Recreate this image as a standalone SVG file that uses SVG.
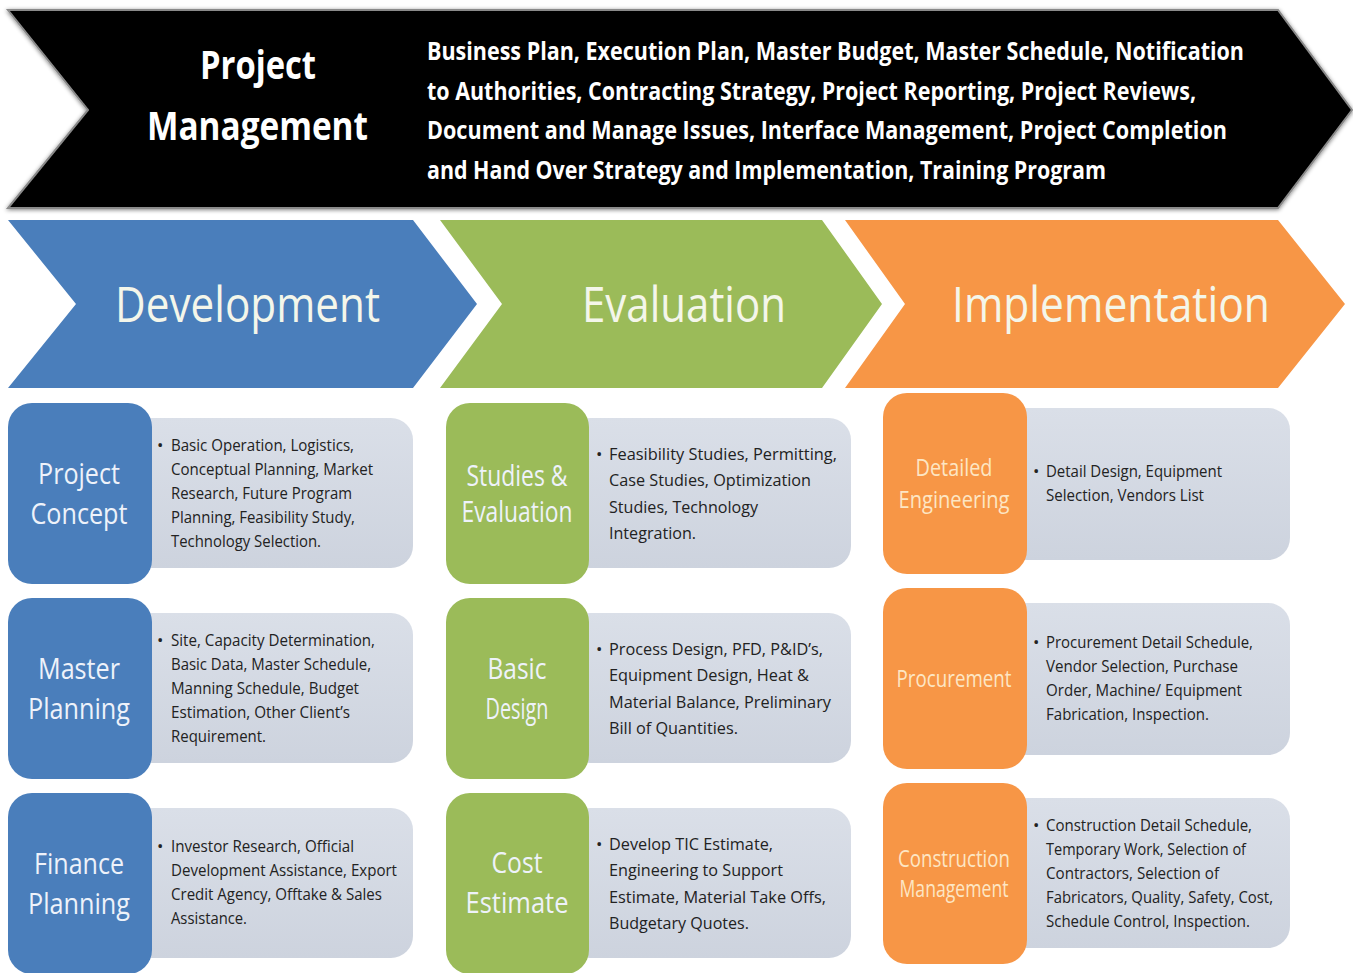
<svg xmlns="http://www.w3.org/2000/svg" width="1353" height="973" viewBox="0 0 1353 973">
<defs>
<linearGradient id="gry" x1="0" y1="0" x2="0" y2="1"><stop offset="0" stop-color="#dadfe8"/><stop offset="1" stop-color="#cdd3de"/></linearGradient>
<filter id="sh" x="-5%" y="-10%" width="110%" height="120%"><feGaussianBlur in="SourceAlpha" stdDeviation="2"/><feOffset dx="0" dy="1"/><feComponentTransfer><feFuncA type="linear" slope="0.5"/></feComponentTransfer><feMerge><feMergeNode/><feMergeNode in="SourceGraphic"/></feMerge></filter>
</defs>
<style>
.f{font-family:"Open Sans","Noto Sans","Liberation Sans",sans-serif}
.hd{fill:#ffffff;font-weight:bold}
.big{fill:#f4f6ea;font-size:50px}
.lb{fill:#eef2fa;font-size:29px;text-anchor:middle}
.lbo{fill:#fde6c4;font-size:23px;text-anchor:middle}
.tx{fill:#222222;font-size:17px}
.bx{fill:url(#gry)}
.blue{fill:#4a7ebb}
.green{fill:#9bbb59}
.orange{fill:#f79646}
</style>
<rect width="1353" height="973" fill="#ffffff"/>

<g id="pm">
<polygon points="8,10 1278,10 1352,110 1278,208 8,208 88,110" fill="#000000" stroke="#8a8a8a" stroke-width="2" filter="url(#sh)"/>
<text class="f hd" x="258" y="79" font-size="40" text-anchor="middle" textLength="116" lengthAdjust="spacingAndGlyphs">Project</text>
<text class="f hd" x="257.5" y="140" font-size="40" text-anchor="middle" textLength="221" lengthAdjust="spacingAndGlyphs">Management</text>
<text class="f hd" font-size="25">
<tspan x="427" y="60" textLength="817" lengthAdjust="spacingAndGlyphs">Business Plan, Execution Plan, Master Budget, Master Schedule, Notification</tspan>
<tspan x="427" y="100" textLength="769" lengthAdjust="spacingAndGlyphs">to Authorities, Contracting Strategy, Project Reporting, Project Reviews,</tspan>
<tspan x="427" y="139" textLength="800" lengthAdjust="spacingAndGlyphs">Document and Manage Issues, Interface Management, Project Completion</tspan>
<tspan x="427" y="179" textLength="679" lengthAdjust="spacingAndGlyphs">and Hand Over Strategy and Implementation, Training Program</tspan>
</text>
</g>

<g id="development">
<polygon class="blue" points="8,220 413,220 477,304 413,388 8,388 76,304"/>
<text class="f big" x="115" y="322" textLength="265" lengthAdjust="spacingAndGlyphs">Development</text>
</g>
<g id="evaluation">
<polygon class="green" points="440,220 822,220 882,304 822,388 440,388 502,304"/>
<text class="f big" x="582" y="322" textLength="204" lengthAdjust="spacingAndGlyphs">Evaluation</text>
</g>
<g id="implementation">
<polygon class="orange" points="845,220 1278,220 1345,304 1278,388 845,388 905,304"/>
<text class="f big" x="952" y="322" textLength="318" lengthAdjust="spacingAndGlyphs">Implementation</text>
</g>

<g id="project-concept">
<rect class="bx" x="130" y="418" width="283" height="150" rx="22"/>
<rect class="blue" x="8" y="403" width="144" height="181" rx="24"/>
<text class="f lb"><tspan x="79" y="484" textLength="82" lengthAdjust="spacingAndGlyphs">Project</tspan><tspan x="79" y="524" textLength="97" lengthAdjust="spacingAndGlyphs">Concept</tspan></text>
<text class="f tx"><tspan x="157" y="451">•</tspan>
<tspan x="171" y="451" textLength="183" lengthAdjust="spacingAndGlyphs">Basic Operation, Logistics,</tspan>
<tspan x="171" y="475" textLength="202" lengthAdjust="spacingAndGlyphs">Conceptual Planning, Market</tspan>
<tspan x="171" y="499" textLength="181" lengthAdjust="spacingAndGlyphs">Research, Future Program</tspan>
<tspan x="171" y="523" textLength="184" lengthAdjust="spacingAndGlyphs">Planning, Feasibility Study,</tspan>
<tspan x="171" y="547" textLength="150" lengthAdjust="spacingAndGlyphs">Technology Selection.</tspan></text>
</g>
<g id="master-planning">
<rect class="bx" x="130" y="613" width="283" height="150" rx="22"/>
<rect class="blue" x="8" y="598" width="144" height="181" rx="24"/>
<text class="f lb"><tspan x="79" y="679" textLength="82" lengthAdjust="spacingAndGlyphs">Master</tspan><tspan x="79" y="719" textLength="102" lengthAdjust="spacingAndGlyphs">Planning</tspan></text>
<text class="f tx"><tspan x="157" y="646">•</tspan>
<tspan x="171" y="646" textLength="204" lengthAdjust="spacingAndGlyphs">Site, Capacity Determination,</tspan>
<tspan x="171" y="670" textLength="200" lengthAdjust="spacingAndGlyphs">Basic Data, Master Schedule,</tspan>
<tspan x="171" y="694" textLength="188" lengthAdjust="spacingAndGlyphs">Manning Schedule, Budget</tspan>
<tspan x="171" y="718" textLength="179" lengthAdjust="spacingAndGlyphs">Estimation, Other Client’s</tspan>
<tspan x="171" y="742" textLength="95" lengthAdjust="spacingAndGlyphs">Requirement.</tspan></text>
</g>
<g id="finance-planning">
<rect class="bx" x="130" y="808" width="283" height="150" rx="22"/>
<rect class="blue" x="8" y="793" width="144" height="181" rx="24"/>
<text class="f lb"><tspan x="79" y="874" textLength="90" lengthAdjust="spacingAndGlyphs">Finance</tspan><tspan x="79" y="914" textLength="102" lengthAdjust="spacingAndGlyphs">Planning</tspan></text>
<text class="f tx"><tspan x="157" y="852">•</tspan>
<tspan x="171" y="852" textLength="183" lengthAdjust="spacingAndGlyphs">Investor Research, Official</tspan>
<tspan x="171" y="876" textLength="226" lengthAdjust="spacingAndGlyphs">Development Assistance, Export</tspan>
<tspan x="171" y="900" textLength="211" lengthAdjust="spacingAndGlyphs">Credit Agency, Offtake &amp; Sales</tspan>
<tspan x="171" y="924" textLength="76" lengthAdjust="spacingAndGlyphs">Assistance.</tspan></text>
</g>

<g id="studies-evaluation">
<rect class="bx" x="568" y="418" width="283" height="150" rx="22"/>
<rect class="green" x="446" y="403" width="143" height="181" rx="24"/>
<text class="f lb"><tspan x="517" y="486" textLength="101" lengthAdjust="spacingAndGlyphs">Studies &amp;</tspan><tspan x="517" y="522" textLength="111" lengthAdjust="spacingAndGlyphs">Evaluation</tspan></text>
<text class="f tx" font-size="19"><tspan x="596" y="460">•</tspan>
<tspan x="609" y="460" textLength="228" lengthAdjust="spacingAndGlyphs">Feasibility Studies, Permitting,</tspan>
<tspan x="609" y="486" textLength="202" lengthAdjust="spacingAndGlyphs">Case Studies, Optimization</tspan>
<tspan x="609" y="513" textLength="149" lengthAdjust="spacingAndGlyphs">Studies, Technology</tspan>
<tspan x="609" y="539" textLength="87" lengthAdjust="spacingAndGlyphs">Integration.</tspan></text>
</g>
<g id="basic-design">
<rect class="bx" x="568" y="613" width="283" height="150" rx="22"/>
<rect class="green" x="446" y="598" width="143" height="181" rx="24"/>
<text class="f lb"><tspan x="517" y="679" textLength="59" lengthAdjust="spacingAndGlyphs">Basic</tspan><tspan x="517" y="719" textLength="63" lengthAdjust="spacingAndGlyphs">Design</tspan></text>
<text class="f tx" font-size="19"><tspan x="596" y="655">•</tspan>
<tspan x="609" y="655" textLength="214" lengthAdjust="spacingAndGlyphs">Process Design, PFD, P&amp;ID’s,</tspan>
<tspan x="609" y="681" textLength="200" lengthAdjust="spacingAndGlyphs">Equipment Design, Heat &amp;</tspan>
<tspan x="609" y="708" textLength="222" lengthAdjust="spacingAndGlyphs">Material Balance, Preliminary</tspan>
<tspan x="609" y="734" textLength="129" lengthAdjust="spacingAndGlyphs">Bill of Quantities.</tspan></text>
</g>
<g id="cost-estimate">
<rect class="bx" x="568" y="808" width="283" height="150" rx="22"/>
<rect class="green" x="446" y="793" width="143" height="181" rx="24"/>
<text class="f lb"><tspan x="517" y="873" textLength="51" lengthAdjust="spacingAndGlyphs">Cost</tspan><tspan x="517" y="913" textLength="103" lengthAdjust="spacingAndGlyphs">Estimate</tspan></text>
<text class="f tx" font-size="19"><tspan x="596" y="850">•</tspan>
<tspan x="609" y="850" textLength="164" lengthAdjust="spacingAndGlyphs">Develop TIC Estimate,</tspan>
<tspan x="609" y="876" textLength="174" lengthAdjust="spacingAndGlyphs">Engineering to Support</tspan>
<tspan x="609" y="903" textLength="217" lengthAdjust="spacingAndGlyphs">Estimate, Material Take Offs,</tspan>
<tspan x="609" y="929" textLength="140" lengthAdjust="spacingAndGlyphs">Budgetary Quotes.</tspan></text>
</g>

<g id="detailed-engineering">
<rect class="bx" x="1005" y="408" width="285" height="152" rx="22"/>
<rect class="orange" x="883" y="393" width="144" height="181" rx="24"/>
<text class="f lbo"><tspan x="954" y="476" textLength="77" lengthAdjust="spacingAndGlyphs">Detailed</tspan><tspan x="954" y="508" textLength="111" lengthAdjust="spacingAndGlyphs">Engineering</tspan></text>
<text class="f tx"><tspan x="1033" y="477">•</tspan>
<tspan x="1046" y="477" textLength="176" lengthAdjust="spacingAndGlyphs">Detail Design, Equipment</tspan>
<tspan x="1046" y="501" textLength="158" lengthAdjust="spacingAndGlyphs">Selection, Vendors List</tspan></text>
</g>
<g id="procurement">
<rect class="bx" x="1005" y="603" width="285" height="152" rx="22"/>
<rect class="orange" x="883" y="588" width="144" height="181" rx="24"/>
<text class="f lbo"><tspan x="954" y="687" textLength="115" lengthAdjust="spacingAndGlyphs">Procurement</tspan></text>
<text class="f tx"><tspan x="1033" y="648">•</tspan>
<tspan x="1046" y="648" textLength="207" lengthAdjust="spacingAndGlyphs">Procurement Detail Schedule,</tspan>
<tspan x="1046" y="672" textLength="192" lengthAdjust="spacingAndGlyphs">Vendor Selection, Purchase</tspan>
<tspan x="1046" y="696" textLength="196" lengthAdjust="spacingAndGlyphs">Order, Machine/ Equipment</tspan>
<tspan x="1046" y="720" textLength="163" lengthAdjust="spacingAndGlyphs">Fabrication, Inspection.</tspan></text>
</g>
<g id="construction-management">
<rect class="bx" x="1005" y="798" width="285" height="150" rx="22"/>
<rect class="orange" x="883" y="783" width="144" height="181" rx="24"/>
<text class="f lbo"><tspan x="954" y="867" textLength="112" lengthAdjust="spacingAndGlyphs">Construction</tspan><tspan x="954" y="897" textLength="109" lengthAdjust="spacingAndGlyphs">Management</tspan></text>
<text class="f tx"><tspan x="1033" y="831">•</tspan>
<tspan x="1046" y="831" textLength="206" lengthAdjust="spacingAndGlyphs">Construction Detail Schedule,</tspan>
<tspan x="1046" y="855" textLength="200" lengthAdjust="spacingAndGlyphs">Temporary Work, Selection of</tspan>
<tspan x="1046" y="879" textLength="173" lengthAdjust="spacingAndGlyphs">Contractors, Selection of</tspan>
<tspan x="1046" y="903" textLength="227" lengthAdjust="spacingAndGlyphs">Fabricators, Quality, Safety, Cost,</tspan>
<tspan x="1046" y="927" textLength="204" lengthAdjust="spacingAndGlyphs">Schedule Control, Inspection.</tspan></text>
</g>

<g id="connectors"></g>
</svg>
